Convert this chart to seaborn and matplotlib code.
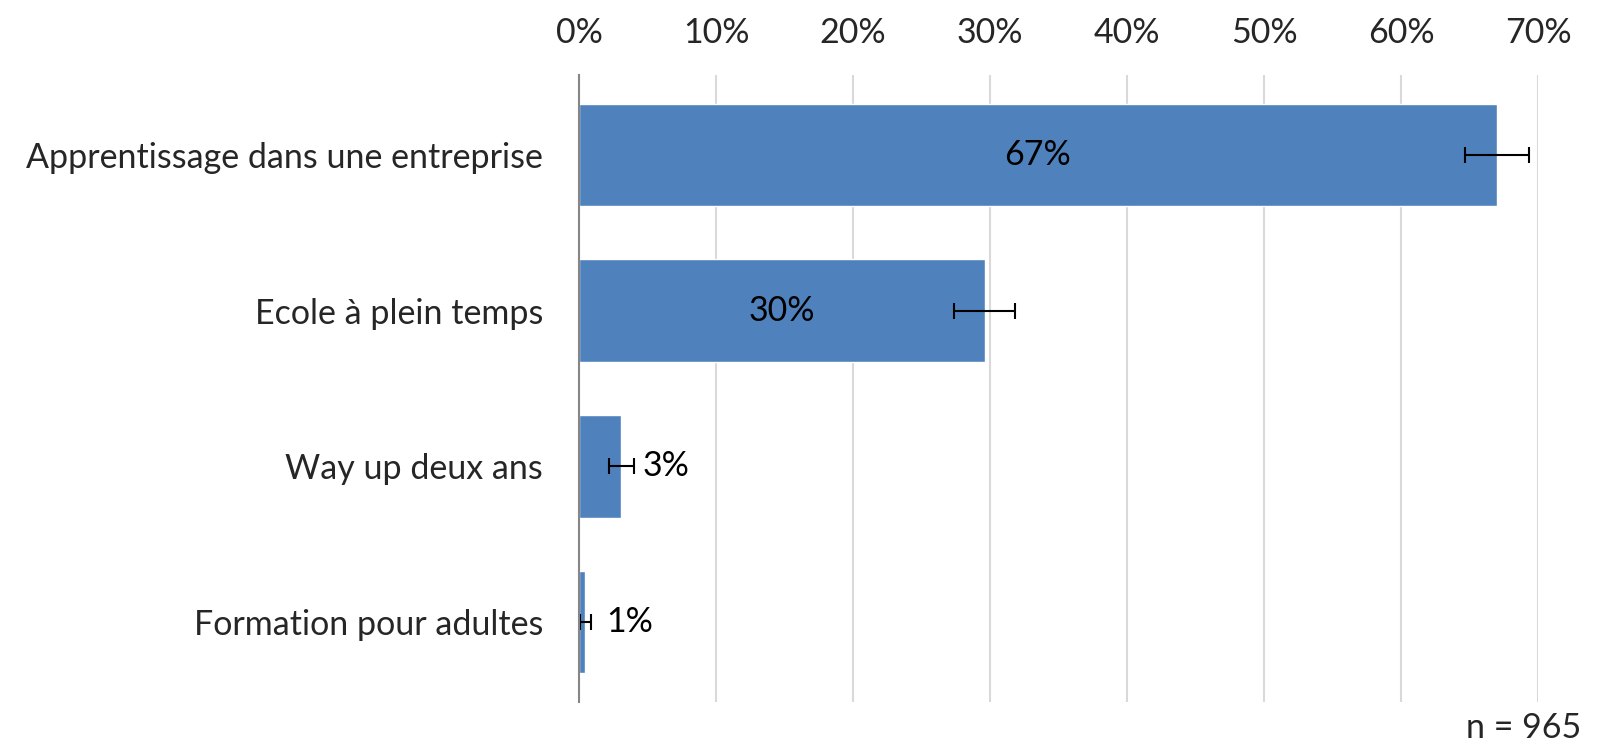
import numpy as np
import pandas as pd
from matplotlib import pyplot as plt
import seaborn as sns

categories = ["Apprentissage dans une entreprise", "Ecole à plein temps",
              "Way up deux ans", "Formation pour adultes"]
shares = [67.0, 29.6, 3.1, 0.47]
errors = [2.35, 2.25, 0.9, 0.43]
labels = ["67%", "30%", "3%", "1%"]
ticks = [0, 10, 20, 30, 40, 50, 60, 70]

df = pd.DataFrame({"cat": categories, "share": shares})

sns.set_theme(style="white")
plt.rcParams['font.family'] = ['Lato', 'DejaVu Sans']
fs = 24.5

fig = plt.figure(figsize=(16.12, 7.48), dpi=100)
ax = fig.add_axes([0.3592, 0.0615, 0.5949, 0.8382])

sns.barplot(data=df, x="share", y="cat", orient="h", color="#4F81BD",
            saturation=1, width=0.66, errorbar=None, ax=ax)
ax.errorbar(shares, np.arange(len(shares)), xerr=errors, fmt="none",
            ecolor="black", elinewidth=1.5, capsize=5.5, capthick=1.5, zorder=4)

cont = ax.containers[0]
ax.bar_label(cont, labels=labels[:2] + ["", ""], label_type="center",
             fontsize=fs, color="black")
ax.bar_label(cont, labels=["", ""] + labels[2:], label_type="edge",
             padding=15, fontsize=fs, color="black")

ax.set_xlim(0, 70)
ax.set_xticks(ticks)
ax.set_xticklabels([f"{t}%" for t in ticks], fontsize=fs)
ax.xaxis.tick_top()
ax.tick_params(axis="x", length=0, pad=19)
ax.tick_params(axis="y", length=0, pad=26, labelsize=fs)
ax.set_xlabel("")
ax.set_ylabel("")
ax.grid(axis="x", color="#D9D9D9", linewidth=1.5)
ax.set_axisbelow(True)
for s in ["top", "right", "bottom"]:
    ax.spines[s].set_visible(False)
ax.spines["left"].set_color("#868686")
ax.spines["left"].set_linewidth(1.5)
ax.spines["left"].set_zorder(5)

fig.text(0.981, 0.006, "n = 965", ha="right", va="bottom", fontsize=fs)

plt.savefig("out.png", dpi=100)
